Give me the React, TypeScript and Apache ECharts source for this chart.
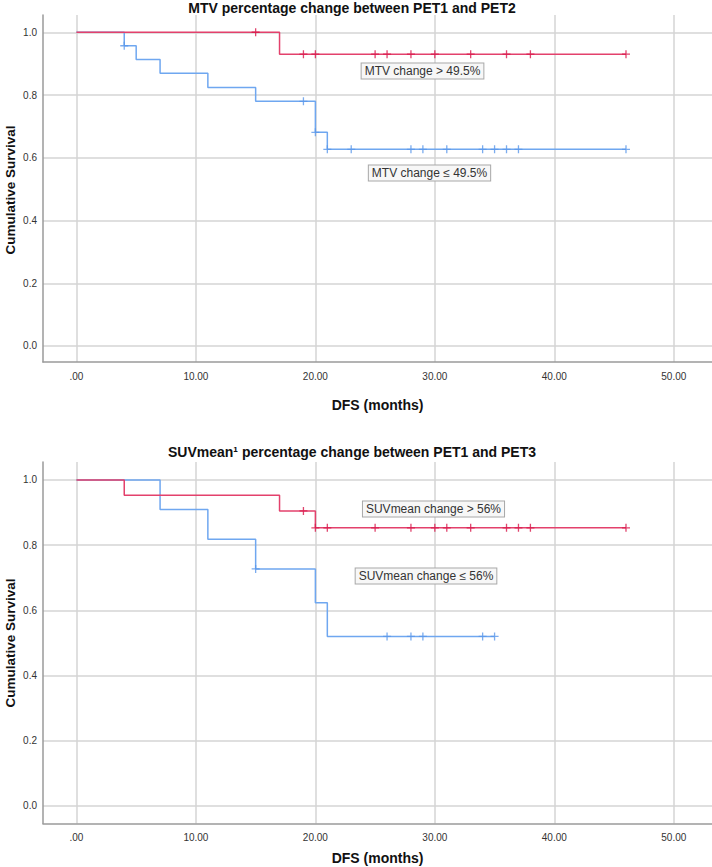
import React, { useEffect, useRef } from "react";
import * as echarts from "echarts";

// ---------- Data: MTV percentage change between PET1 and PET2 ----------
const mtvHighTimes = [0, 17, 46];
const mtvHighSurv = [1, 0.93, 0.93];
const mtvHighCensor = [15, 19, 20, 25, 26, 28, 30, 33, 36, 38, 46];

const mtvLowTimes = [0, 4, 5, 7, 11, 15, 20, 21, 46];
const mtvLowSurv = [1, 0.957, 0.913, 0.869, 0.824, 0.78, 0.681, 0.627, 0.627];
const mtvLowCensor = [4, 19, 20, 21, 23, 28, 29, 31, 34, 35, 36, 37, 46];

// ---------- Data: SUVmean percentage change between PET1 and PET3 ----------
const suvHighTimes = [0, 4, 17, 20, 46];
const suvHighSurv = [1, 0.953, 0.905, 0.853, 0.853];
const suvHighCensor = [19, 20, 21, 25, 28, 30, 31, 33, 36, 37, 38, 46];

const suvLowTimes = [0, 7, 11, 15, 20, 21, 35];
const suvLowSurv = [1, 0.909, 0.818, 0.727, 0.623, 0.52, 0.52];
const suvLowCensor = [15, 26, 28, 29, 34, 35];

const titles = [
  "MTV percentage change between PET1 and PET2",
  "SUVmean\u00b9 percentage change between PET1 and PET3",
];
const groupLabels = [
  "MTV change > 49.5%",
  "MTV change \u2264 49.5%",
  "SUVmean change > 56%",
  "SUVmean change \u2264 56%",
];
const xAxisName = "DFS (months)";
const yAxisName = "Cumulative Survival";

const RED = "#e3416c";
const RED_MARK = "#d8174a";
const BLUE = "#6fa7f0";
const BLUE_MARK = "#5a97ea";
const FONT = '"Liberation Sans", Arial, sans-serif';

const survAt = (times: number[], surv: number[], t: number) => {
  let v = surv[0];
  for (let i = 0; i < times.length; i++) if (times[i] <= t) v = surv[i];
  return v;
};
const stepData = (times: number[], surv: number[]) =>
  times.map((t, i) => [t, surv[i]]);
const censorData = (times: number[], surv: number[], cens: number[]) =>
  cens.map((c) => [c, survAt(times, surv, c)]);

const PLUS = "path://M5,0L5,10M0,5L10,5";

function makeSeries(
  gi: number,
  times: number[],
  surv: number[],
  cens: number[],
  lineColor: string,
  markColor: string,
  z: number
) {
  return [
    {
      type: "line",
      xAxisIndex: gi,
      yAxisIndex: gi,
      data: stepData(times, surv),
      step: "end",
      symbol: "none",
      showSymbol: false,
      lineStyle: { color: lineColor, width: 1.5 },
      itemStyle: { color: lineColor },
      z,
      silent: true,
    },
    {
      type: "scatter",
      xAxisIndex: gi,
      yAxisIndex: gi,
      data: censorData(times, surv, cens),
      symbol: PLUS,
      symbolSize: 8,
      itemStyle: { color: "none", borderColor: markColor, borderWidth: 1.3 },
      z: z + 1,
      silent: true,
    },
  ];
}

function xAxis(gi: number, nameGap: number) {
  return {
    type: "value",
    gridIndex: gi,
    min: -2.8,
    max: 53.2,
    name: xAxisName,
    nameLocation: "middle",
    nameGap,
    nameTextStyle: { fontFamily: FONT, fontSize: 14, fontWeight: "bold", color: "#111" },
    axisLine: { show: true, onZero: false, lineStyle: { color: "#9a9a9a", width: 1.5 } },
    axisTick: { show: false },
    axisLabel: {
      showMinLabel: false,
      showMaxLabel: false,
      fontFamily: FONT,
      fontSize: 10,
      color: "#333",
      margin: 9,
      formatter: (v: number) => (v === 0 ? ".00" : v.toFixed(2)),
    },
    splitLine: {
      show: true,
      showMinLine: false,
      showMaxLine: false,
      lineStyle: { color: "#d4d4d4", width: 1.5 },
    },
  };
}

function yAxis(gi: number, min: number, max: number) {
  return {
    type: "value",
    gridIndex: gi,
    min,
    max,
    axisLine: { show: true, onZero: false, lineStyle: { color: "#9a9a9a", width: 1.5 } },
    axisTick: { show: false },
    axisLabel: {
      showMinLabel: false,
      showMaxLabel: false,
      fontFamily: FONT,
      fontSize: 10,
      color: "#333",
      margin: 6,
      formatter: (v: number) => v.toFixed(1),
    },
    splitLine: {
      show: true,
      showMinLine: false,
      showMaxLine: false,
      lineStyle: { color: "#d4d4d4", width: 1.5 },
    },
  };
}

function boxLabel(text: string, x: number, y: number) {
  return {
    type: "text",
    x,
    y,
    z: 50,
    style: {
      text,
      font: `12px ${FONT}`,
      fill: "#333",
      textAlign: "center",
      textVerticalAlign: "middle",
      verticalAlign: "middle",
      backgroundColor: "#f7f7f7",
      borderColor: "#a8a8a8",
      borderWidth: 1,
      padding: [2, 3, 1, 3],
    },
  };
}

function yName(y: number) {
  return {
    type: "text",
    x: 10,
    y,
    rotation: Math.PI / 2,
    style: {
      text: yAxisName,
      font: `bold 13.5px ${FONT}`,
      fill: "#111",
      textAlign: "center",
      textVerticalAlign: "middle",
      verticalAlign: "middle",
    },
  };
}

function titleText(text: string, y: number) {
  return {
    type: "text",
    x: 352,
    y,
    style: {
      text,
      font: `bold 14px ${FONT}`,
      fill: "#111",
      textAlign: "center",
      textVerticalAlign: "middle",
      verticalAlign: "middle",
    },
  };
}

export default function App() {
  const ref = useRef<HTMLDivElement>(null);
  useEffect(() => {
    if (!ref.current) return;
    const chart = echarts.init(ref.current, null, { renderer: "svg" });
    chart.setOption({
      animation: false,
      backgroundColor: "#ffffff",
      grid: [
        { left: 43, right: 0, top: 15, height: 347, containLabel: false, outerBoundsMode: "none" },
        { left: 43, right: 0, top: 462, height: 361.5, containLabel: false, outerBoundsMode: "none" },
      ],
      xAxis: [xAxis(0, 36), xAxis(1, 27)],
      yAxis: [yAxis(0, -0.051, 1.055), yAxis(1, -0.054, 1.055)],
      series: [
        ...makeSeries(0, mtvLowTimes, mtvLowSurv, mtvLowCensor, BLUE, BLUE_MARK, 2),
        ...makeSeries(0, mtvHighTimes, mtvHighSurv, mtvHighCensor, RED, RED_MARK, 4),
        ...makeSeries(1, suvLowTimes, suvLowSurv, suvLowCensor, BLUE, BLUE_MARK, 2),
        ...makeSeries(1, suvHighTimes, suvHighSurv, suvHighCensor, RED, RED_MARK, 4),
      ],
      graphic: [
        titleText(titles[0], 8),
        titleText(titles[1], 452),
        yName(190),
        yName(643),
        boxLabel(groupLabels[0], 422.5, 71),
        boxLabel(groupLabels[1], 429.5, 173),
        boxLabel(groupLabels[2], 433.5, 509),
        boxLabel(groupLabels[3], 426, 576),
      ],
    });
    return () => chart.dispose();
  }, []);
  return (
    <div
      ref={ref}
      style={{ position: "fixed", left: 0, top: 0, width: 712, height: 867 }}
    />
  );
}
